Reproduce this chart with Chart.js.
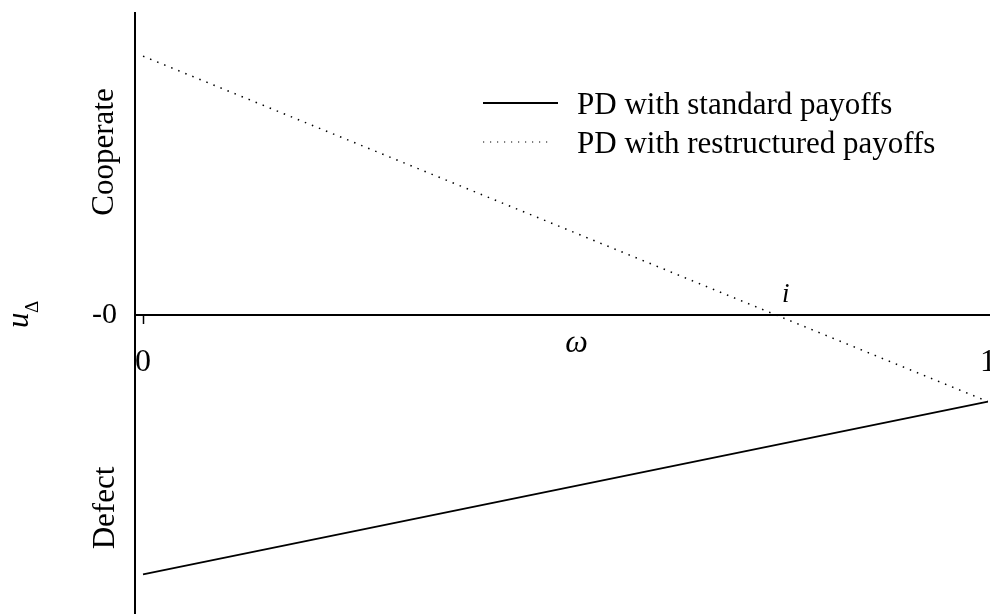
<!DOCTYPE html>
<html>
<head>
<meta charset="utf-8">
<script src="https://cdn.jsdelivr.net/npm/chart.js@4.4.0/dist/chart.umd.min.js"></script>
<style>
  html, body { margin: 0; padding: 0; background: #fff; }
  #wrap { width: 990px; height: 614px; }
</style>
</head>
<body>
<div id="wrap"><canvas id="chart-pd"></canvas></div>
<script>
// omega on x, u_delta on y
let omega = [0, 1]
let standardPayoffs = [-3, -1]
let restructuredPayoffs = [3, -1]

let xTicks = [0, 1]
let xTickLabels = ["0", "1"]
let yTicks = [0]
let yTickLabels = ["-0"]

let seriesNames = ["PD with standard payoffs", "PD with restructured payoffs"]
let regionLabels = ["Cooperate", "Defect"]

Chart.defaults.font.family = "'Liberation Serif', 'Times New Roman', serif"
Chart.defaults.color = "#000"

function toPoints(ys) {
    let pts = []
    for (let t = 0; t < omega.length; t++) {
        pts.push({ x: omega[t], y: ys[t] })
    }
    return pts
}

// no extra room for overhanging tick labels, the plot runs to the canvas edges
function noLabelPadding(scale) {
    scale.paddingTop = 0
    scale.paddingBottom = 0
    scale.paddingLeft = 0
    scale.paddingRight = 0
}

// text that sits around the axes plus the legend box
let decorations = {
    id: "decorations",
    afterDraw(chart) {
        let ctx = chart.ctx
        let xs = chart.scales.x
        let ys = chart.scales.y
        let y0 = ys.getPixelForValue(0)
        ctx.save()
        ctx.fillStyle = "#000"
        ctx.textBaseline = "alphabetic"

        // region names along the y axis
        ctx.font = "31px 'Liberation Serif', serif"
        ctx.textAlign = "center"
        ctx.save()
        ctx.translate(113, 152)
        ctx.rotate(-Math.PI / 2)
        ctx.fillText(regionLabels[0], 0, 0)
        ctx.restore()
        ctx.save()
        ctx.translate(114, 508)
        ctx.rotate(-Math.PI / 2)
        ctx.fillText(regionLabels[1], 0, 0)
        ctx.restore()

        // y axis title u with delta subscript
        ctx.save()
        ctx.translate(28, 328)
        ctx.rotate(-Math.PI / 2)
        ctx.textAlign = "left"
        ctx.font = "italic 31px 'Liberation Serif', serif"
        ctx.fillText("u", 0, 0)
        ctx.font = "19px 'Liberation Serif', serif"
        ctx.fillText("\u0394", 15, 10)
        ctx.restore()

        // x axis title
        ctx.textAlign = "center"
        ctx.font = "italic 32px 'Liberation Serif', serif"
        ctx.fillText("\u03c9", xs.getPixelForValue(0.5) + 11, y0 + 37)

        // crossing of the restructured line with zero
        let a = restructuredPayoffs[0], b = restructuredPayoffs[1]
        let cross = omega[0] + (omega[1] - omega[0]) * a / (a - b)
        ctx.font = "italic 27px 'Liberation Serif', serif"
        ctx.fillText("i", xs.getPixelForValue(cross) + 9, y0 - 13)

        // legend
        let lx = 483, lw = 75
        let rows = [103, 142]
        chart.data.datasets.forEach((ds, k) => {
            ctx.save()
            ctx.strokeStyle = ds.borderColor
            ctx.lineWidth = k === 0 ? 1.8 : 1.2
            ctx.setLineDash(k === 0 ? [] : [1.2, 5.8])
            ctx.beginPath()
            ctx.moveTo(lx, rows[k])
            ctx.lineTo(lx + (k === 0 ? lw : lw - 5), rows[k])
            ctx.stroke()
            ctx.restore()
            ctx.textAlign = "left"
            ctx.font = "31px 'Liberation Serif', serif"
            ctx.fillText(ds.label, 577, rows[k] + 11)
        })
        ctx.restore()
    }
}

let pdChart = new Chart(
    document.getElementById("chart-pd").getContext('2d'),
    {
        type: "scatter",
        data: {
            datasets: [{
                label: seriesNames[0],
                data: toPoints(standardPayoffs),
                showLine: true,
                borderColor: "#000",
                borderWidth: 1.8,
                pointRadius: 0
            }, {
                label: seriesNames[1],
                data: toPoints(restructuredPayoffs),
                showLine: true,
                borderColor: "#000",
                borderWidth: 1.5,
                borderDash: [1.5, 6.1],
                pointRadius: 0
            }]
        },
        options: {
            responsive: true,
            maintainAspectRatio: false,
            animation: false,
            layout: { padding: { top: 13, right: 0, bottom: 0, left: 0 } },
            plugins: {
                legend: { display: false },
                tooltip: { enabled: false }
            },
            scales: {
                x: {
                    type: "linear",
                    position: { y: 0 },
                    min: -0.0095,
                    max: 1.0025,
                    afterBuildTicks: (scale) => {
                        scale.ticks = xTicks.map(v => ({ value: v }))
                    },
                    afterFit: noLabelPadding,
                    ticks: {
                        autoSkip: false,
                        maxRotation: 0,
                        padding: 20,
                        font: { size: 32 },
                        callback: (v) => xTickLabels[xTicks.indexOf(v)]
                    },
                    grid: {
                        drawOnChartArea: false,
                        drawTicks: true,
                        tickLength: 8,
                        tickWidth: 1.5,
                        tickColor: (c) => c.index === 0 ? "#000" : "rgba(0,0,0,0)"
                    },
                    border: { color: "#000", width: 2 }
                },
                y: {
                    type: "linear",
                    position: "left",
                    min: -3.46,
                    max: 3.5,
                    afterBuildTicks: (scale) => {
                        scale.ticks = yTicks.map(v => ({ value: v }))
                    },
                    afterFit: (scale) => {
                        noLabelPadding(scale)
                        scale.width = 135
                    },
                    ticks: {
                        padding: 18,
                        font: { size: 30 },
                        callback: (v) => yTickLabels[yTicks.indexOf(v)]
                    },
                    grid: { drawOnChartArea: false, drawTicks: false },
                    border: { color: "#000", width: 2 }
                }
            }
        },
        plugins: [decorations]
    }
)
</script>
</body>
</html>
